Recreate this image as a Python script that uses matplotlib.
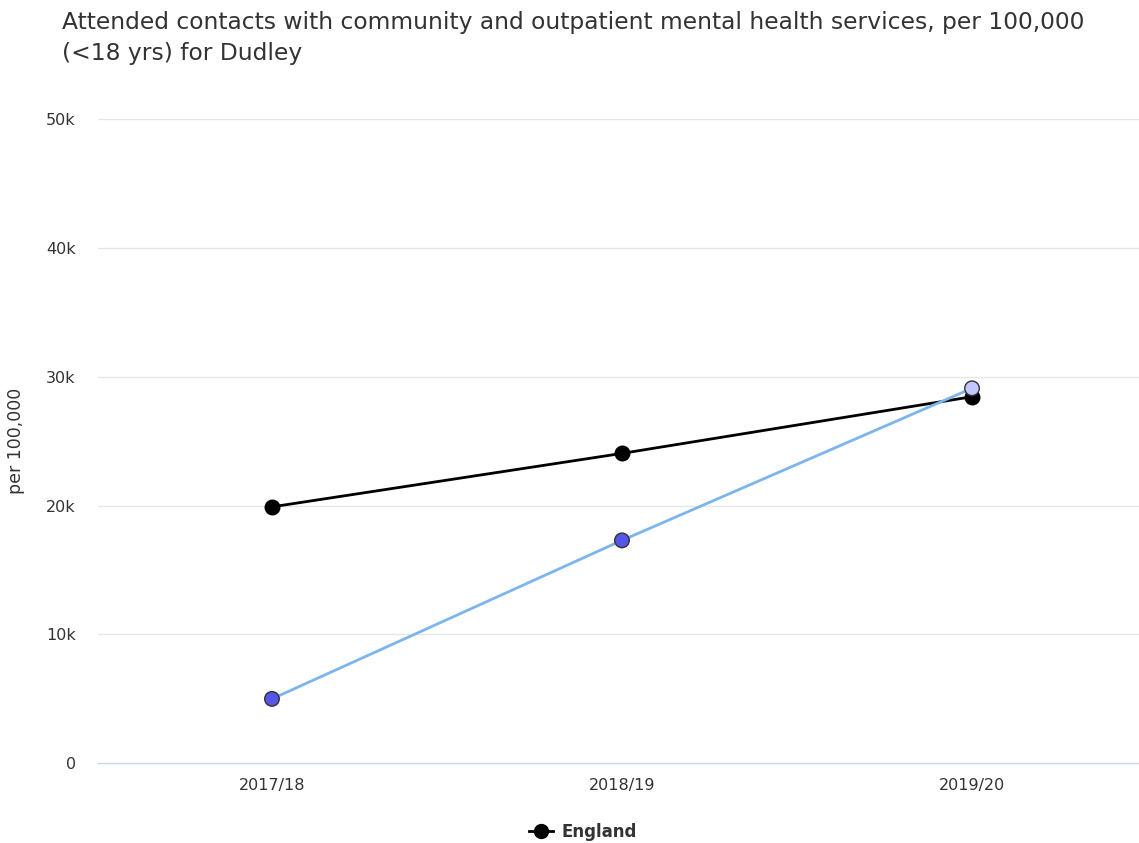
import matplotlib
matplotlib.use("Agg")
import matplotlib.pyplot as plt
from matplotlib.lines import Line2D

# Data
periods = ["2017/18", "2018/19", "2019/20"]
england = [19900, 24050, 28450]
dudley = [5000, 17300, 29100]
dudley_marker_colors = ["#5555e6", "#5555e6", "#c0c8ff"]
y_ticks = [0, 10000, 20000, 30000, 40000, 50000]
y_tick_labels = ["0", "10k", "20k", "30k", "40k", "50k"]

W, H = 1139, 843
fig = plt.figure(figsize=(W / 100, H / 100), dpi=100)
ax = fig.add_axes([98 / W, 1 - 763.3 / H, 1 - 98 / W, (763.3 - 119) / H])

x = list(range(len(periods)))

ax.plot(x, england, color="black", lw=2, zorder=3)
ax.scatter(x, england, s=110, color="black", edgecolor="black", lw=1, zorder=4)

ax.plot(x, dudley, color="#7cb5ec", lw=2, zorder=5)
ax.scatter(x, dudley, s=110, c=dudley_marker_colors, edgecolor="#333333", lw=1, zorder=6)

ax.set_ylim(0, 50000)
ax.set_xlim(-0.497, 2.477)
ax.set_yticks(y_ticks)
ax.set_yticklabels(y_tick_labels)
ax.set_xticks(x)
ax.set_xticklabels(periods)

for y in y_ticks[1:]:
    ax.axhline(y, color="#e6e6e6", lw=1, zorder=1)

for s in ["top", "right", "left"]:
    ax.spines[s].set_visible(False)
ax.spines["bottom"].set_color("#ccd6eb")
ax.spines["bottom"].set_linewidth(1)
ax.tick_params(axis="y", length=0, pad=16, labelsize=11.5, labelcolor="#333333")
ax.tick_params(axis="x", length=0, pad=10.5, labelsize=11.5, labelcolor="#333333")

ax.set_ylabel("per 100,000", fontsize=12.5, color="#333333")
ax.yaxis.set_label_coords((25 - 98) / (W - 98), 0.5)

fig.text(62 / W, 1 - 11 / H,
         "Attended contacts with community and outpatient mental health services, per 100,000\n(<18 yrs) for Dudley",
         ha="left", va="top", fontsize=16.8, color="#333333", linespacing=1.42)

handle = Line2D([0], [0], color="black", lw=2, marker="o", markersize=10,
                markerfacecolor="black", markeredgecolor="black")
fig.legend([handle], ["England"], loc="center", bbox_to_anchor=(583 / W, 1 - 832 / H),
           frameon=False, prop={"weight": "bold", "size": 12}, labelcolor="#333333",
           handlelength=1.4, handletextpad=0.5)

fig.savefig("out.png", dpi=100, facecolor="white")
